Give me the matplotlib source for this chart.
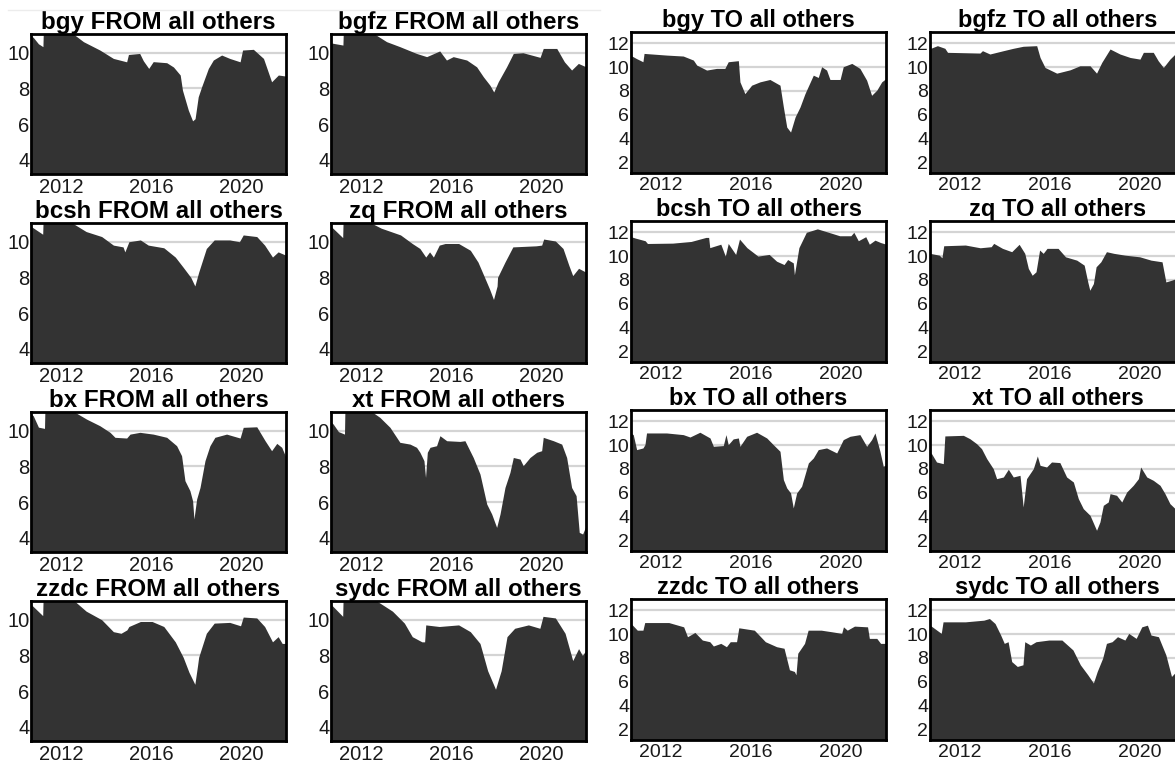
import matplotlib
matplotlib.use("Agg")
import matplotlib.pyplot as plt
from matplotlib.lines import Line2D

plt.rcParams["font.family"] = ["Liberation Sans", "DejaVu Sans"]

# ---- FROM series (decimal years, values) ----
bgy_from_t = [2010.67, 2010.77, 2011.0, 2011.2, 2011.22, 2012.3, 2012.55, 2013.0, 2013.73, 2014.33, 2014.92, 2015.0, 2015.5, 2015.66, 2015.9, 2016.1, 2016.7, 2017.0, 2017.3, 2017.4, 2017.66, 2017.85, 2017.96, 2018.1, 2018.25, 2018.55, 2018.77, 2019.14, 2019.5, 2019.96, 2020.07, 2020.55, 2021.0, 2021.36, 2021.66, 2022.0]
bgy_from_v = [10.95, 10.86, 10.5, 10.34, 11.3, 11.3, 11.05, 10.62, 10.15, 9.68, 9.49, 9.9, 9.96, 9.55, 9.12, 9.5, 9.44, 9.2, 8.75, 7.9, 6.78, 6.18, 6.3, 7.53, 8.09, 9.12, 9.59, 9.87, 9.68, 9.49, 10.15, 10.19, 9.68, 8.37, 8.75, 8.69]

bgfz_from_t = [2010.67, 2011.2, 2011.22, 2012.4, 2012.6, 2013.14, 2013.73, 2014.47, 2014.92, 2015.5, 2015.8, 2016.1, 2016.7, 2017.14, 2017.44, 2017.73, 2017.9, 2018.1, 2018.47, 2018.77, 2019.2, 2019.96, 2020.1, 2020.7, 2021.04, 2021.36, 2021.66, 2022.0]
bgfz_from_v = [10.55, 10.43, 11.3, 11.3, 11.05, 10.62, 10.34, 9.96, 9.78, 10.1, 9.59, 9.78, 9.59, 9.21, 8.65, 8.18, 7.8, 8.37, 9.21, 9.96, 10.0, 9.74, 10.24, 10.24, 9.49, 9.03, 9.4, 9.21]

bcsh_from_t = [2010.67, 2011.19, 2011.21, 2012.3, 2012.5, 2013.12, 2013.81, 2014.33, 2014.76, 2014.84, 2015.02, 2015.53, 2015.88, 2016.57, 2017.08, 2017.43, 2017.77, 2017.95, 2018.12, 2018.46, 2018.81, 2019.5, 2019.93, 2020.1, 2020.7, 2021.05, 2021.4, 2021.65, 2022.0]
bcsh_from_v = [10.86, 10.42, 11.3, 11.3, 11.05, 10.57, 10.29, 9.81, 9.71, 9.43, 10.0, 10.1, 9.81, 9.66, 9.14, 8.57, 8.0, 7.52, 8.29, 9.62, 10.1, 10.1, 10.0, 10.38, 10.29, 9.81, 9.14, 9.43, 9.24]

zq_from_t = [2010.67, 2011.19, 2011.21, 2012.2, 2012.45, 2012.9, 2013.76, 2014.28, 2014.62, 2014.88, 2015.05, 2015.22, 2015.48, 2015.74, 2016.34, 2016.86, 2017.2, 2017.46, 2017.72, 2017.89, 2018.05, 2018.07, 2018.4, 2018.75, 2019.78, 2020.03, 2020.12, 2020.64, 2020.98, 2021.24, 2021.41, 2021.67, 2022.0]
zq_from_v = [10.86, 10.23, 11.3, 11.3, 11.05, 10.76, 10.38, 9.9, 9.62, 9.14, 9.43, 9.14, 9.81, 9.9, 9.9, 9.52, 8.86, 8.1, 7.33, 6.76, 7.52, 8.0, 8.86, 9.71, 9.77, 9.81, 10.15, 10.04, 9.62, 8.67, 8.1, 8.51, 8.29]

bx_from_t = [2010.67, 2010.77, 2011.0, 2011.27, 2011.29, 2012.4, 2012.6, 2013.14, 2013.73, 2014.18, 2014.4, 2014.92, 2015.07, 2015.51, 2016.1, 2016.7, 2017.14, 2017.36, 2017.51, 2017.73, 2017.85, 2017.91, 2018.03, 2018.18, 2018.4, 2018.62, 2018.84, 2019.36, 2019.96, 2020.1, 2020.7, 2021.07, 2021.36, 2021.59, 2021.81, 2022.0]
bx_from_v = [10.95, 10.84, 10.2, 10.13, 11.3, 11.3, 11.05, 10.65, 10.28, 9.91, 9.63, 9.59, 9.81, 9.91, 9.81, 9.63, 9.16, 8.6, 7.2, 6.64, 6.07, 5.05, 6.17, 6.82, 8.32, 9.16, 9.63, 9.81, 9.59, 10.19, 10.22, 9.44, 8.88, 9.29, 9.07, 8.5]

xt_from_t = [2010.67, 2010.77, 2011.0, 2011.27, 2011.29, 2012.25, 2012.5, 2012.84, 2013.29, 2013.73, 2014.18, 2014.47, 2014.62, 2014.8, 2014.87, 2014.95, 2015.07, 2015.36, 2015.51, 2015.81, 2016.4, 2016.62, 2016.99, 2017.29, 2017.59, 2017.81, 2018.03, 2018.18, 2018.4, 2018.62, 2018.77, 2019.07, 2019.21, 2019.51, 2019.81, 2020.03, 2020.1, 2020.55, 2020.92, 2021.14, 2021.36, 2021.56, 2021.7, 2021.85, 2022.0]
xt_from_v = [10.5, 10.37, 9.95, 9.81, 11.3, 11.3, 11.05, 10.75, 10.19, 9.35, 9.25, 9.07, 8.79, 8.32, 7.38, 8.79, 9.07, 9.16, 9.72, 9.44, 9.4, 9.44, 8.5, 7.57, 5.89, 5.33, 4.58, 5.33, 6.82, 7.66, 8.5, 8.41, 8.04, 8.5, 8.79, 8.88, 9.63, 9.44, 9.25, 8.5, 6.82, 6.36, 4.3, 4.21, 4.67]

zzdc_from_t = [2010.67, 2011.19, 2011.21, 2012.4, 2012.6, 2013.12, 2013.81, 2014.33, 2014.67, 2014.93, 2015.02, 2015.53, 2016.05, 2016.57, 2017.08, 2017.43, 2017.69, 2017.95, 2018.07, 2018.12, 2018.46, 2018.81, 2019.5, 2019.98, 2020.1, 2020.7, 2021.05, 2021.4, 2021.65, 2021.83, 2022.0]
zzdc_from_v = [10.86, 10.23, 11.3, 11.3, 11.05, 10.48, 10.0, 9.33, 9.24, 9.43, 9.62, 9.9, 9.9, 9.62, 8.76, 7.9, 7.05, 6.38, 7.43, 7.9, 9.24, 9.81, 9.85, 9.66, 10.15, 10.1, 9.62, 8.76, 9.05, 8.67, 8.67]

sydc_from_t = [2010.67, 2011.19, 2011.21, 2012.5, 2012.7, 2013.4, 2013.93, 2014.28, 2014.71, 2014.83, 2014.88, 2015.48, 2016.34, 2016.86, 2017.29, 2017.63, 2017.98, 2018.23, 2018.49, 2018.83, 2019.44, 2019.95, 2020.09, 2020.64, 2021.07, 2021.41, 2021.67, 2021.84, 2022.0]
sydc_from_v = [10.86, 10.19, 11.3, 11.3, 11.05, 10.48, 9.81, 9.05, 8.76, 8.76, 9.71, 9.62, 9.71, 9.33, 8.67, 7.14, 6.1, 7.14, 9.05, 9.52, 9.71, 9.52, 10.19, 10.1, 9.24, 7.71, 8.38, 8.0, 8.29]

# ---- TO series ----
bgy_to_t = [2010.67, 2010.77, 2010.9, 2011.2, 2011.25, 2012.25, 2012.99, 2013.44, 2013.59, 2014.03, 2014.47, 2014.84, 2014.99, 2015.44, 2015.51, 2015.73, 2016.03, 2016.4, 2016.84, 2017.29, 2017.44, 2017.59, 2017.76, 2017.96, 2018.18, 2018.4, 2018.77, 2018.99, 2019.14, 2019.36, 2019.51, 2019.96, 2020.1, 2020.48, 2020.84, 2021.14, 2021.36, 2021.59, 2021.81, 2022.0]
bgy_to_v = [10.95, 10.87, 10.73, 10.45, 11.15, 11.01, 10.93, 10.59, 10.17, 9.75, 9.89, 9.89, 10.45, 10.54, 8.76, 7.77, 8.48, 8.76, 8.96, 8.48, 6.65, 4.96, 4.54, 5.8, 6.65, 7.77, 9.32, 9.13, 10.03, 9.75, 8.96, 8.96, 10.03, 10.31, 9.89, 8.9, 7.63, 8.06, 8.76, 9.04]

bgfz_to_t = [2010.67, 2010.81, 2011.0, 2011.33, 2011.45, 2012.89, 2013.0, 2013.33, 2013.93, 2014.37, 2014.81, 2015.41, 2015.56, 2015.78, 2016.3, 2016.89, 2017.33, 2017.78, 2018.07, 2018.3, 2018.67, 2019.11, 2019.56, 2020.0, 2020.15, 2020.59, 2020.81, 2021.04, 2021.33, 2021.56, 2022.0]
bgfz_to_v = [11.55, 11.66, 11.8, 11.58, 11.24, 11.18, 11.38, 11.1, 11.38, 11.58, 11.75, 11.8, 10.81, 9.97, 9.49, 9.77, 10.11, 10.11, 9.49, 10.39, 11.52, 11.1, 10.81, 10.67, 11.24, 11.24, 10.53, 9.97, 10.67, 11.1, 11.0]

bcsh_to_t = [2010.67, 2010.87, 2011.3, 2011.4, 2012.52, 2013.34, 2014.0, 2014.12, 2014.17, 2014.66, 2014.86, 2014.99, 2015.32, 2015.49, 2015.82, 2016.31, 2016.81, 2017.14, 2017.47, 2017.63, 2017.88, 2017.93, 2018.13, 2018.46, 2018.95, 2019.45, 2019.94, 2020.44, 2020.57, 2020.77, 2021.1, 2021.26, 2021.51, 2021.76, 2022.0]
bcsh_to_v = [11.63, 11.51, 11.29, 11.06, 11.09, 11.23, 11.57, 11.57, 10.71, 11.0, 10.0, 11.06, 10.14, 11.43, 10.71, 10.0, 10.14, 9.57, 9.29, 9.71, 9.43, 8.43, 10.71, 12.0, 12.29, 12.0, 11.71, 11.71, 12.0, 11.29, 11.63, 11.0, 11.34, 11.14, 11.0]

zq_to_t = [2010.67, 2011.08, 2011.2, 2011.28, 2012.24, 2012.9, 2013.39, 2013.5, 2013.89, 2014.3, 2014.63, 2014.88, 2015.04, 2015.21, 2015.38, 2015.54, 2015.7, 2015.87, 2016.36, 2016.69, 2017.19, 2017.52, 2017.68, 2017.77, 2017.93, 2018.05, 2018.26, 2018.51, 2018.84, 2019.33, 2019.99, 2020.49, 2020.98, 2021.15, 2021.4, 2021.61, 2022.0]
zq_to_v = [10.23, 10.08, 9.86, 10.87, 10.93, 10.7, 10.79, 11.07, 10.65, 10.37, 10.99, 10.23, 8.96, 8.39, 8.68, 10.51, 10.23, 10.65, 10.65, 9.94, 9.66, 9.24, 7.83, 7.13, 7.69, 9.1, 9.52, 10.37, 10.23, 10.08, 9.94, 9.66, 9.52, 7.83, 7.97, 8.11, 8.0]

bx_to_t = [2010.67, 2010.77, 2010.92, 2011.2, 2011.29, 2011.36, 2012.25, 2012.99, 2013.29, 2013.73, 2014.18, 2014.33, 2014.77, 2014.89, 2014.99, 2015.21, 2015.44, 2015.51, 2015.81, 2016.25, 2016.7, 2016.99, 2017.29, 2017.44, 2017.59, 2017.76, 2017.88, 2018.03, 2018.25, 2018.55, 2018.77, 2018.99, 2019.36, 2019.81, 2020.1, 2020.4, 2020.84, 2021.14, 2021.36, 2021.51, 2021.73, 2021.88, 2022.0]
bx_to_v = [11.0, 10.88, 9.62, 9.76, 10.04, 11.02, 11.02, 10.88, 10.68, 11.08, 10.6, 9.9, 9.96, 10.88, 10.04, 10.52, 10.6, 9.9, 10.74, 11.08, 10.6, 10.04, 9.48, 7.1, 6.4, 5.98, 4.72, 5.98, 6.54, 8.5, 8.92, 9.62, 9.76, 9.34, 10.46, 10.74, 10.88, 9.9, 10.46, 11.02, 9.48, 8.22, 8.36]

xt_to_t = [2010.67, 2010.74, 2010.96, 2011.26, 2011.33, 2012.15, 2012.44, 2012.74, 2012.96, 2013.19, 2013.48, 2013.63, 2013.93, 2014.15, 2014.37, 2014.67, 2014.81, 2014.96, 2015.26, 2015.44, 2015.56, 2015.85, 2016.07, 2016.44, 2016.74, 2017.04, 2017.26, 2017.48, 2017.78, 2018.07, 2018.22, 2018.37, 2018.59, 2018.67, 2018.96, 2019.19, 2019.41, 2019.7, 2019.93, 2020.03, 2020.3, 2020.59, 2020.89, 2021.11, 2021.33, 2021.56, 2022.0]
xt_to_v = [9.4, 9.28, 8.58, 8.44, 10.77, 10.82, 10.54, 10.12, 9.7, 8.86, 8.02, 7.18, 7.32, 7.97, 7.32, 7.46, 4.8, 7.18, 8.02, 9.09, 8.3, 8.16, 8.58, 8.53, 7.32, 6.9, 5.5, 4.66, 4.1, 2.84, 3.54, 4.94, 5.22, 5.92, 5.78, 5.22, 6.06, 6.62, 7.18, 8.16, 7.32, 7.04, 6.62, 5.92, 5.08, 4.66, 4.0]

zzdc_to_t = [2010.67, 2010.95, 2011.2, 2011.28, 2012.35, 2013.01, 2013.18, 2013.51, 2013.84, 2014.17, 2014.33, 2014.66, 2014.91, 2015.08, 2015.36, 2015.46, 2016.15, 2016.64, 2017.14, 2017.47, 2017.71, 2017.93, 2018.0, 2018.08, 2018.38, 2018.54, 2019.12, 2019.61, 2020.03, 2020.11, 2020.28, 2020.6, 2021.18, 2021.26, 2021.59, 2021.76, 2022.0]
zzdc_to_v = [10.89, 10.33, 10.33, 10.97, 10.97, 10.61, 9.78, 10.14, 9.5, 9.36, 9.0, 9.22, 8.94, 9.36, 9.36, 10.53, 10.33, 9.36, 8.94, 8.81, 7.0, 6.86, 6.58, 8.39, 9.22, 10.33, 10.33, 10.19, 10.06, 10.61, 10.33, 10.67, 10.61, 9.64, 9.64, 9.22, 9.22]

sydc_to_t = [2010.67, 2011.17, 2011.25, 2012.24, 2013.06, 2013.31, 2013.56, 2013.81, 2013.97, 2014.14, 2014.3, 2014.55, 2014.8, 2014.88, 2015.13, 2015.38, 2015.95, 2016.53, 2017.02, 2017.35, 2017.68, 2017.93, 2018.1, 2018.34, 2018.51, 2018.76, 2019.0, 2019.33, 2019.5, 2019.83, 2020.08, 2020.33, 2020.49, 2020.82, 2021.15, 2021.4, 2021.61, 2022.0]
sydc_to_v = [10.75, 10.06, 11.03, 11.03, 11.17, 11.31, 10.89, 9.92, 9.22, 9.36, 7.69, 7.28, 7.42, 9.36, 9.08, 9.36, 9.5, 9.5, 8.67, 7.42, 6.58, 5.89, 6.86, 7.97, 9.22, 9.36, 9.78, 9.5, 10.06, 9.64, 10.61, 10.75, 9.92, 9.78, 8.25, 6.44, 6.86, 6.5]

from_names = ["bgy", "bgfz", "bcsh", "zq", "bx", "xt", "zzdc", "sydc"]
from_series = [(bgy_from_t, bgy_from_v), (bgfz_from_t, bgfz_from_v),
               (bcsh_from_t, bcsh_from_v), (zq_from_t, zq_from_v),
               (bx_from_t, bx_from_v), (xt_from_t, xt_from_v),
               (zzdc_from_t, zzdc_from_v), (sydc_from_t, sydc_from_v)]
to_series = [(bgy_to_t, bgy_to_v), (bgfz_to_t, bgfz_to_v),
             (bcsh_to_t, bcsh_to_v), (zq_to_t, zq_to_v),
             (bx_to_t, bx_to_v), (xt_to_t, xt_to_v),
             (zzdc_to_t, zzdc_to_v), (sydc_to_t, sydc_to_v)]

year_ticks = [2012, 2016, 2020]
from_yticks = [4, 6, 8, 10]
to_yticks = [2, 4, 6, 8, 10, 12]

W, H = 1175, 762
fig = plt.figure(figsize=(W / 100, H / 100), dpi=100)
fig.patch.set_facecolor("white")

# faint rule along the top of the left block
fig.add_artist(Line2D([8 / W, 600 / W], [1 - 10 / H, 1 - 10 / H], color="#ececec", lw=1))


def panel(left, top, w, h, t, v, title, ylim, yticks, title_size, tick_size):
    ax = fig.add_axes([left / W, 1 - (top + h) / H, w / W, h / H])
    ax.fill_between(t, v, 0, color="#333333", lw=0, zorder=2)
    ax.set_xlim(2010.67, 2022.0)
    ax.set_ylim(*ylim)
    ax.set_xticks(year_ticks)
    ax.set_xticklabels([str(y) for y in year_ticks])
    ax.set_yticks(yticks)
    ax.set_yticklabels([str(y) for y in yticks])
    ax.yaxis.grid(True, color="#d4d4d4", lw=1.6)
    ax.xaxis.grid(False)
    ax.set_axisbelow(True)
    ax.tick_params(length=0, labelsize=tick_size, colors="#1a1a1a")
    ax.tick_params(axis="y", pad=1.2)
    ax.tick_params(axis="x", pad=3)
    for s in ax.spines.values():
        s.set_color("black")
        s.set_linewidth(2)
        s.set_zorder(5)
    ax.set_title(title, fontsize=title_size, fontweight="bold", pad=2)
    return ax


pw, ph = 255, 140
for i, (name, (t, v)) in enumerate(zip(from_names, from_series)):
    r, c = divmod(i, 2)
    panel(31 + c * 300, 34 + r * 189, pw, ph, t, v, f"{name} FROM all others",
          (3.2, 11.05), from_yticks, 17.4, 14.5)

for i, (name, (t, v)) in enumerate(zip(from_names, to_series)):
    r, c = divmod(i, 2)
    panel(631 + c * 299, 32 + r * 189, pw, 141, t, v, f"{name} TO all others",
          (1.1, 12.95), to_yticks, 17, 14)

fig.savefig("out.png", dpi=100, facecolor="white")
